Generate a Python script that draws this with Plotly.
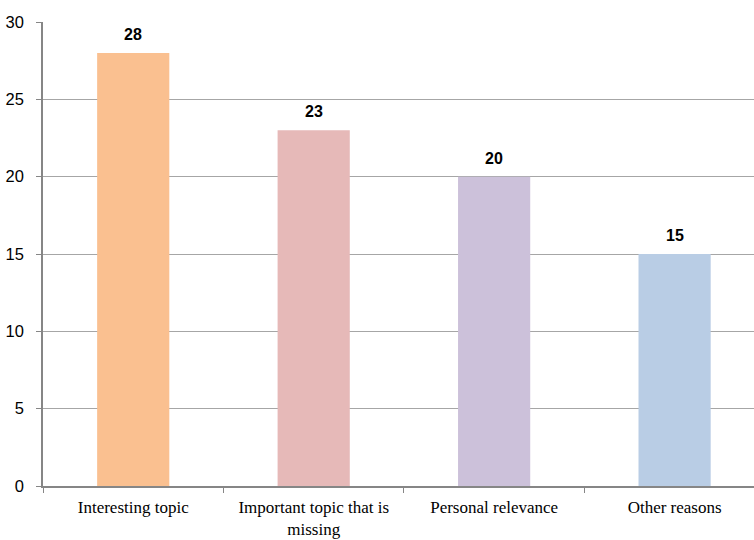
import plotly.graph_objects as go

categories = ["Interesting topic", "Important topic that is<br>missing",
              "Personal relevance", "Other reasons"]
values = [28, 23, 20, 15]
bar_colors = ["#FAC090", "#E6B9B8", "#CCC1DA", "#B9CDE5"]
y_ticks = [0, 5, 10, 15, 20, 25, 30]

fig = go.Figure(
    go.Bar(
        x=categories,
        y=values,
        marker=dict(color=bar_colors, line=dict(width=0)),
        width=0.4,
        hoverinfo="skip",
    )
)

for cat, val in zip(categories, values):
    fig.add_annotation(
        x=cat, y=val, text=f"<b>{val}</b>", showarrow=False,
        yanchor="bottom", yshift=8,
        font=dict(family="Liberation Sans, Arial", size=16, color="#000000"),
    )

fig.update_layout(
    width=754, height=540,
    margin=dict(l=43, r=0, t=22, b=54),
    paper_bgcolor="white", plot_bgcolor="white",
    showlegend=False,
    bargap=0.6,
)

fig.update_xaxes(
    range=[-0.5, 3.44],
    automargin=False,
    showline=True, linecolor="#868686", linewidth=1.5,
    ticks="outside", tickson="boundaries", ticklen=5, tickcolor="#868686",
    ticklabelstandoff=5,
    tickfont=dict(family="Liberation Serif, Times New Roman", size=17, color="#000000"),
    showgrid=False,
)

fig.update_yaxes(
    range=[0, 30], tickvals=y_ticks,
    automargin=False,
    showline=True, linecolor="#868686", linewidth=1.5,
    ticks="outside", ticklen=5, tickcolor="#868686",
    ticklabelstandoff=9,
    tickfont=dict(family="Liberation Sans, Arial", size=16.5, color="#000000"),
    showgrid=True, gridcolor="#A6A6A6", gridwidth=1.2,
    zeroline=False,
)

fig.write_html("out.html")
